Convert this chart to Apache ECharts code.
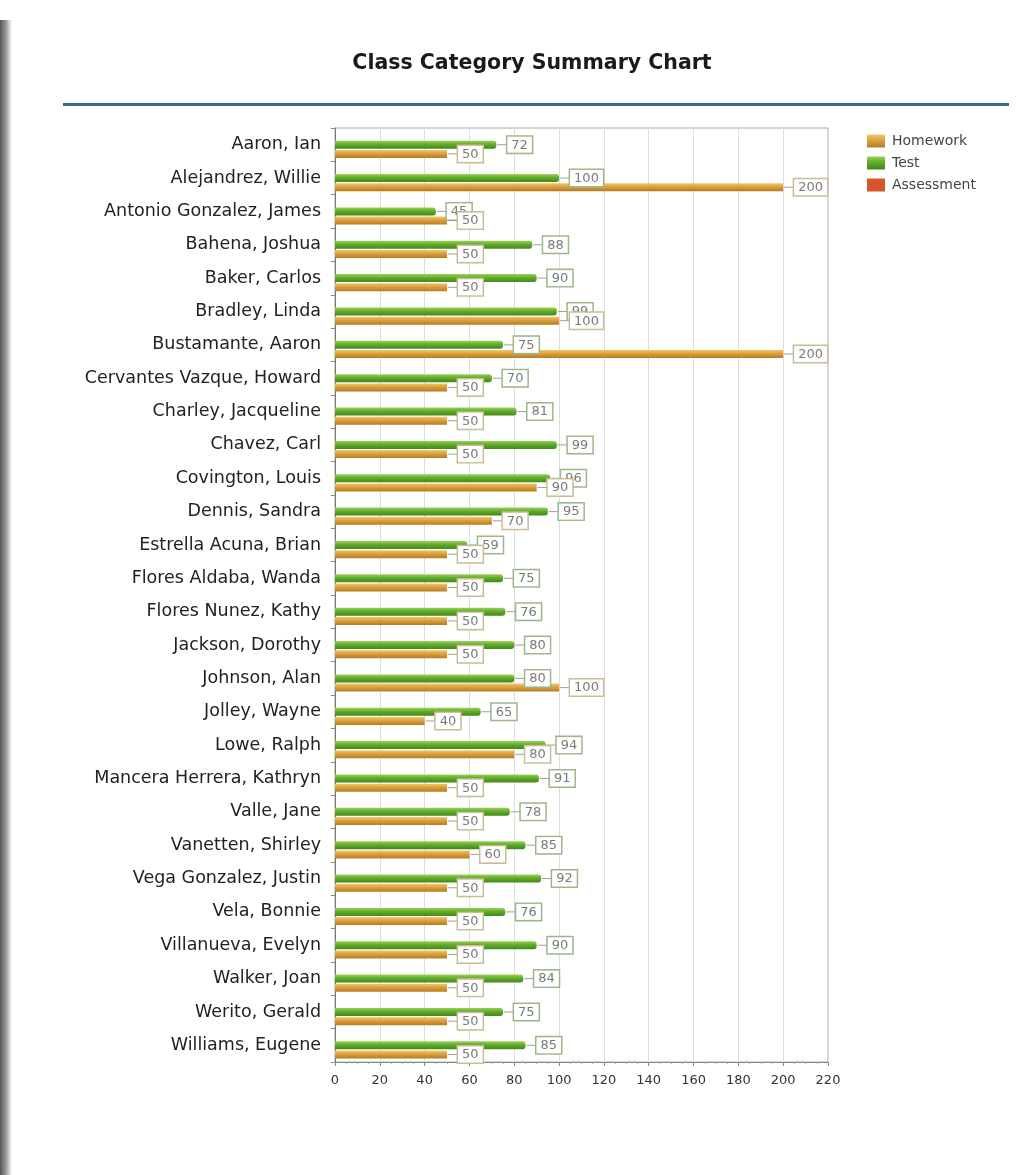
<!DOCTYPE html>
<html>
<head>
<meta charset="utf-8">
<script src="https://cdn.jsdelivr.net/npm/echarts@6/dist/echarts.min.js"></script>
<style>
html,body{margin:0;padding:0;background:#fff;}
#chart{width:1031px;height:1175px;}
</style>
</head>
<body>
<div id="chart"></div>
<script>
const students = ["Aaron, Ian","Alejandrez, Willie","Antonio Gonzalez, James","Bahena, Joshua","Baker, Carlos","Bradley, Linda","Bustamante, Aaron","Cervantes Vazque, Howard","Charley, Jacqueline","Chavez, Carl","Covington, Louis","Dennis, Sandra","Estrella Acuna, Brian","Flores Aldaba, Wanda","Flores Nunez, Kathy","Jackson, Dorothy","Johnson, Alan","Jolley, Wayne","Lowe, Ralph","Mancera Herrera, Kathryn","Valle, Jane","Vanetten, Shirley","Vega Gonzalez, Justin","Vela, Bonnie","Villanueva, Evelyn","Walker, Joan","Werito, Gerald","Williams, Eugene"];
const testScores = [72,100,45,88,90,99,75,70,81,99,96,95,59,75,76,80,80,65,94,91,78,85,92,76,90,84,75,85];
const homeworkScores = [50,200,50,50,50,100,200,50,50,50,90,70,50,50,50,50,100,40,80,50,50,60,50,50,50,50,50,50];
const assessmentScores = [];
const xTicks = [0,20,40,60,80,100,120,140,160,180,200,220];

function mkLabel(borderCol){
  return {
    show:true, position:'right', distance:1,
    formatter: p => '{ln|}{bx|' + p.value + '}',
    rich:{
      ln:{width:10,height:1,backgroundColor:'#a0a090'},
      bx:{backgroundColor:'#fff',borderColor:borderCol,borderWidth:1.5,padding:[2,4,1,4],
          color:'#7a7a7a',fontSize:13,fontFamily:'DejaVu Sans',lineHeight:16}
    }
  };
}

const chart = echarts.init(document.getElementById('chart'));
chart.setOption({
  animation:false,
  backgroundColor:'#fff',
  title:{text:'Class Category Summary Chart',left:527,textAlign:'center',top:48,
    textStyle:{fontFamily:'DejaVu Sans',fontWeight:'bold',fontSize:20.5,color:'#1a1a1a'}},
  graphic:[
    {type:'rect',left:63,top:103,shape:{width:946,height:3},style:{fill:'#3d6796'}},
    {type:'rect',left:0,top:20,shape:{width:12,height:1155},
      style:{fill:new echarts.graphic.LinearGradient(0,0,1,0,[{offset:0,color:'#555'},{offset:0.5,color:'#999'},{offset:1,color:'#fff'}])}}
  ],
  legend:{
    orient:'vertical',left:862,top:129,itemWidth:18,itemHeight:13,itemGap:8,
    textStyle:{fontFamily:'DejaVu Sans',fontSize:14,color:'#444',padding:[0,0,0,2]},
    data:[{name:'Homework',icon:'rect'},{name:'Test',icon:'rect'},{name:'Assessment',icon:'rect'}]
  },
  grid:{left:335,right:203,top:128,bottom:113,show:true,borderColor:'#aaa',borderWidth:1},
  xAxis:{
    type:'value',min:0,max:220,interval:20,
    axisLine:{show:true,lineStyle:{color:'#888'}},
    axisTick:{show:true,length:4,lineStyle:{color:'#888'}},
    minorTick:{show:true,splitNumber:4,length:2,lineStyle:{color:'#aaa'}},
    splitLine:{show:true,lineStyle:{color:'#ddd'}},
    axisLabel:{fontFamily:'DejaVu Sans',fontSize:13,color:'#333',margin:12,
      formatter:v=>xTicks.includes(v)?String(v):''}
  },
  yAxis:{
    type:'category',data:students,inverse:true,
    axisLine:{show:true,lineStyle:{color:'#777'}},
    axisTick:{show:true,length:4,lineStyle:{color:'#888'}},
    axisLabel:{fontFamily:'DejaVu Sans',fontSize:17.5,color:'#222',margin:14}
  },
  series:[
    {name:'Assessment',type:'bar',data:assessmentScores,barWidth:8,barGap:'15%',itemStyle:{color:'#d9542b'}},
    {name:'Test',type:'bar',data:testScores,barWidth:8,barGap:'15%',
      itemStyle:{color:new echarts.graphic.LinearGradient(0,0,0,1,[{offset:0,color:'#9ad257'},{offset:0.45,color:'#62ab2b'},{offset:1,color:'#3f8a1a'}]),borderRadius:[0,3,3,0]},
      label:mkLabel('#9cb88a')},
    {name:'Homework',type:'bar',data:homeworkScores,barWidth:8,barGap:'15%',
      itemStyle:{color:new echarts.graphic.LinearGradient(0,0,0,1,[{offset:0,color:'#f2c670'},{offset:0.45,color:'#dca03c'},{offset:1,color:'#b57c22'}])},
      label:mkLabel('#cbbd93')}
  ]
});
</script>
</body>
</html>
